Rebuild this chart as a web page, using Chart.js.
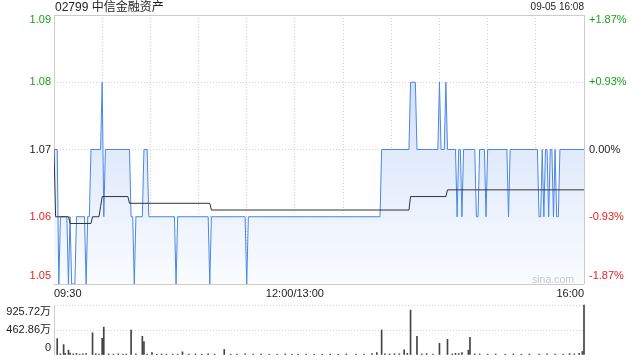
<!DOCTYPE html>
<html>
<head>
<meta charset="utf-8">
<script src="https://cdn.jsdelivr.net/npm/chart.js@4.4.1/dist/chart.umd.min.js"></script>
<style>
  html, body { margin: 0; padding: 0; background: #fff; }
  #wrap { position: relative; width: 640px; height: 360px; font-family: "Liberation Sans", Arial, "Noto Sans CJK SC", sans-serif; }
  #title { position: absolute; left: 55px; top: 0; font-size: 12px; line-height: 14px; color: #222; }
  #stamp { position: absolute; right: 56px; top: 0; font-size: 10px; line-height: 14px; color: #222; }
  #mark { position: absolute; left: 532px; top: 273px; font-size: 10.5px; line-height: 12px; color: #c8c8c8; }
  #price { position: absolute; left: 0; top: 0; }
  #vol { position: absolute; left: 0; top: 300px; }
</style>
</head>
<body>
<div id="wrap">
  <canvas id="price" width="640" height="300"></canvas>
  <canvas id="vol" width="640" height="60"></canvas>
  <div id="title">02799 中信金融资产</div>
  <div id="stamp">09-05 16:08</div>
  <div id="mark">sina.com</div>
</div>
<script>
// minutes since 09:30 (lunch folded out), 330 = 16:00
const lineMinutes = [0, 2, 3, 4, 8, 9, 10, 11, 13, 14, 19, 20, 21, 22, 23, 29, 30, 31, 32,
  47, 48, 49, 50, 51, 55, 56, 58, 59, 75, 76, 77, 96, 97, 98, 119, 120, 121,
  203, 204, 221, 222, 225, 226, 239, 240, 241, 243, 244, 245, 250, 251, 252, 253, 254, 255,
  262, 263, 264, 265, 268, 269, 270, 282, 283, 284,
  301, 302, 303, 304, 305, 306, 307, 308, 309, 310, 311, 312, 313, 314, 315, 330];
const linePrices = [1.07, 1.07, 1.05, 1.06, 1.06, 1.05, 1.06, 1.05, 1.05, 1.06, 1.06, 1.05, 1.06, 1.06, 1.07, 1.07, 1.08, 1.06, 1.07,
  1.07, 1.06, 1.06, 1.05, 1.06, 1.06, 1.07, 1.07, 1.06, 1.06, 1.05, 1.06, 1.06, 1.05, 1.06, 1.06, 1.05, 1.06,
  1.06, 1.07, 1.07, 1.08, 1.08, 1.07, 1.07, 1.08, 1.07, 1.07, 1.08, 1.07, 1.07, 1.06, 1.07, 1.07, 1.06, 1.07,
  1.07, 1.06, 1.06, 1.07, 1.07, 1.06, 1.07, 1.07, 1.06, 1.07,
  1.07, 1.06, 1.06, 1.07, 1.06, 1.07, 1.07, 1.06, 1.07, 1.07, 1.06, 1.07, 1.06, 1.06, 1.07, 1.07];

const avgMinutes = [0, 1, 9, 10, 23, 24, 28, 29, 30, 46, 47, 97, 98, 221, 222, 244, 245, 330];
const avgPrices = [1.07, 1.06, 1.06, 1.059, 1.059, 1.06, 1.06, 1.0615, 1.063, 1.063, 1.062, 1.062, 1.061, 1.061, 1.063, 1.063, 1.064, 1.064];

// volume in 万
const volMinutes = [2, 4, 6, 7, 9, 10, 12, 14, 16, 18, 20, 24, 26, 28, 30, 31, 34, 37, 40, 43, 45, 48, 51, 55, 56, 58,
  61, 64, 67, 70, 74, 77, 80, 84, 88, 92, 96, 100, 106, 110, 114, 119, 124, 129, 134, 139, 144, 148,
  152, 157, 162, 167, 172, 177, 182, 188, 193, 198, 201, 204, 206, 209, 212, 215, 218, 220, 222, 226,
  229, 232, 236, 240, 245, 248, 250, 252, 254, 258, 259, 262, 265, 270, 275, 281, 286, 291, 296,
  302, 307, 312, 317, 321, 324, 327, 329, 330];
const volValues = [303, 22, 193, 30, 90, 35, 20, 28, 15, 20, 25, 411, 25, 18, 309, 515, 20, 15, 22, 15, 18, 463, 20, 347, 250, 18,
  45, 15, 20, 15, 18, 15, 58, 15, 20, 15, 22, 15, 103, 15, 18, 20, 15, 18, 15, 15, 20, 15,
  15, 18, 15, 15, 18, 15, 20, 15, 18, 25, 45, 463, 20, 18, 25, 22, 96, 30, 830, 347,
  20, 25, 18, 219, 290, 20, 30, 25, 45, 90, 328, 20, 18, 15, 18, 15, 20, 15, 18,
  15, 20, 15, 18, 25, 20, 30, 66, 925.72];

const prevClose = 1.07;
const priceTicks = [1.09, 1.08, 1.07, 1.06, 1.05];
const gridMinutes = [0, 30, 60, 90, 120, 150, 180, 210, 240, 270, 300, 330];
const timeTickMinutes = [0, 150, 330];
const timeTickLabels = ["09:30", "12:00/13:00", "16:00"];
const volTicks = [925.72, 462.86, 0];
const volTickLabels = ["925.72万", "462.86万", "0"];

const FONT = "'Liberation Sans', Arial, 'Noto Sans CJK SC', sans-serif";
Chart.defaults.font.family = FONT;
Chart.defaults.color = "#222";

const upDown = (v) => (v > prevClose ? "#1a9e1a" : v < prevClose ? "#e62222" : "#222");
const pctText = (v) => {
  const p = ((v - prevClose) / prevClose) * 100;
  return (p > 0 ? "+" : "") + p.toFixed(2) + "%";
};

// y labels sit at the tick value, pushed inside the frame at both ends
const sideLabels = {
  id: "sideLabels",
  afterDraw(chart, args, opts) {
    const { ctx, chartArea } = chart;
    const scale = chart.scales.y;
    ctx.save();
    ctx.font = "11px " + FONT;
    ctx.textBaseline = "middle";
    opts.values.forEach((v, i) => {
      let y = scale.getPixelForValue(v);
      y = Math.min(Math.max(y, chartArea.top + opts.inset[0]), chartArea.bottom - opts.inset[1]);
      ctx.fillStyle = opts.colors[i];
      ctx.textAlign = "right";
      ctx.fillText(opts.left[i], chartArea.left - 3, y);
      if (opts.right) {
        ctx.textAlign = "left";
        ctx.fillText(opts.right[i], chartArea.right + 5, y);
      }
    });
    ctx.restore();
  },
};

const frame = "#cccccc";
const dotted = "#d2d2d2";
const dots = [1, 2];

new Chart(document.getElementById("price"), {
  type: "line",
  data: {
    datasets: [
      {
        data: avgMinutes.map((m, i) => ({ x: m, y: avgPrices[i] })),
        borderColor: "#333",
        borderWidth: 1,
        pointRadius: 0,
        fill: false,
        order: 1,
      },
      {
        data: lineMinutes.map((m, i) => ({ x: m, y: linePrices[i] })),
        borderColor: "#4a86e8",
        borderWidth: 1,
        pointRadius: 0,
        fill: "start",
        backgroundColor: (c) => {
          const a = c.chart.chartArea;
          if (!a) return "rgba(220,232,250,0.6)";
          const g = c.chart.ctx.createLinearGradient(0, a.top, 0, a.bottom);
          g.addColorStop(0, "rgb(198,216,248)");
          g.addColorStop(1, "rgb(250,252,255)");
          return g;
        },
        order: 2,
      },
    ],
  },
  options: {
    responsive: false,
    animation: false,
    layout: { padding: { top: 15, right: 56 } },
    plugins: {
      legend: { display: false },
      tooltip: { enabled: false },
      sideLabels: {
        values: priceTicks,
        left: priceTicks.map((v) => v.toFixed(2)),
        right: priceTicks.map(pctText),
        colors: priceTicks.map(upDown),
        inset: [5, 8],
      },
    },
    scales: {
      x: {
        type: "linear",
        min: 0,
        max: 330,
        afterBuildTicks: (s) => { s.ticks = gridMinutes.map((v) => ({ value: v })); },
        afterFit: (s) => { s.height = 16; },
        ticks: {
          autoSkip: false,
          maxRotation: 0,
          align: "inner",
          padding: 3,
          font: { size: 11 },
          color: "#222",
          callback: (v) => {
            const k = timeTickMinutes.indexOf(v);
            return k >= 0 ? timeTickLabels[k] : "";
          },
        },
        grid: {
          drawTicks: false,
          color: (c) => (c.index === 0 || c.index === gridMinutes.length - 1 ? frame : dotted),
        },
        border: {
          display: false,
          dash: (c) => (c.index === 0 || c.index === gridMinutes.length - 1 ? [] : dots),
        },
      },
      y: {
        min: 1.05,
        max: 1.09,
        afterBuildTicks: (s) => { s.ticks = priceTicks.map((v) => ({ value: v })); },
        afterFit: (s) => { s.width = 54; },
        ticks: { display: false },
        grid: {
          drawTicks: false,
          color: (c) => (c.tick && (c.tick.value === 1.09 || c.tick.value === 1.05) ? frame : dotted),
        },
        border: {
          display: false,
          dash: (c) => (c.tick && (c.tick.value === 1.09 || c.tick.value === 1.05) ? [] : dots),
        },
      },
    },
  },
  plugins: [sideLabels],
});

new Chart(document.getElementById("vol"), {
  type: "bar",
  data: {
    datasets: [
      {
        data: volMinutes.map((m, i) => ({ x: m, y: volValues[i] })),
        backgroundColor: "#444",
        barThickness: 1,
        clip: 2,
      },
    ],
  },
  options: {
    responsive: false,
    animation: false,
    layout: { padding: { top: 5, right: 56 } },
    plugins: {
      legend: { display: false },
      tooltip: { enabled: false },
      sideLabels: {
        values: volTicks,
        left: volTickLabels,
        colors: volTicks.map(() => "#222"),
        inset: [6.5, 7],
      },
    },
    scales: {
      x: {
        type: "linear",
        min: 0,
        max: 330,
        offset: false,
        afterBuildTicks: (s) => { s.ticks = [{ value: 0 }]; },
        afterFit: (s) => { s.height = 5; },
        ticks: { display: false },
        grid: { drawTicks: false, offset: false, color: frame },
        border: { display: false },
      },
      y: {
        min: 0,
        max: volTicks[0],
        afterBuildTicks: (s) => { s.ticks = volTicks.map((v) => ({ value: v })); },
        afterFit: (s) => { s.width = 54; },
        ticks: { display: false },
        grid: {
          drawTicks: false,
          color: (c) => (c.tick && c.tick.value === 0 ? "rgba(0,0,0,0)" : dotted),
        },
        border: { display: false, dash: dots },
      },
    },
  },
  plugins: [sideLabels],
});
</script>
</body>
</html>
